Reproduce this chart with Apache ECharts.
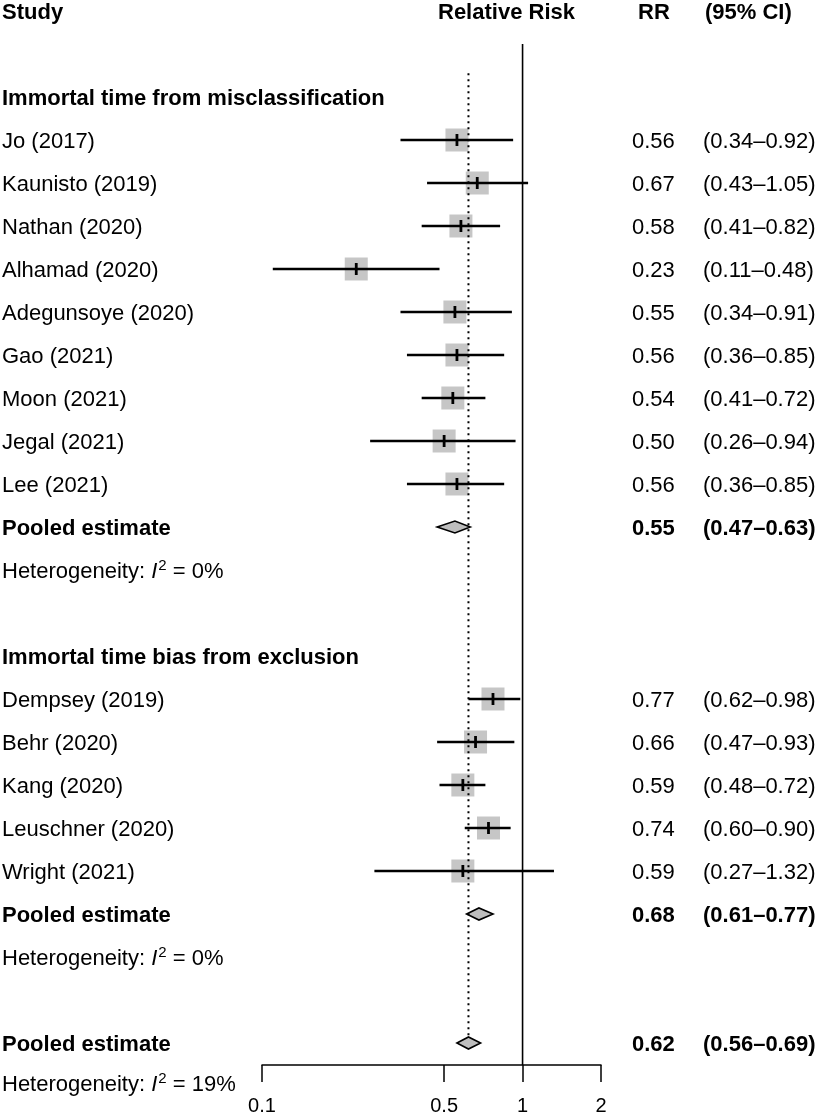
<!DOCTYPE html>
<html>
<head>
<meta charset="utf-8">
<script src="https://cdn.jsdelivr.net/npm/echarts@6/dist/echarts.min.js"></script>
<style>
  html, body { margin: 0; padding: 0; background: #fff; }
  #chart { width: 819px; height: 1116px; }
</style>
</head>
<body>
<div id="chart"></div>
<script>
  // data
  const groupTitles = ['Immortal time from misclassification', 'Immortal time bias from exclusion']

  const group1Studies = ['Jo (2017)', 'Kaunisto (2019)', 'Nathan (2020)', 'Alhamad (2020)', 'Adegunsoye (2020)',
    'Gao (2021)', 'Moon (2021)', 'Jegal (2021)', 'Lee (2021)']
  const group1RR = [0.56, 0.67, 0.58, 0.23, 0.55, 0.56, 0.54, 0.50, 0.56]
  const group1Lo = [0.34, 0.43, 0.41, 0.11, 0.34, 0.36, 0.41, 0.26, 0.36]
  const group1Hi = [0.92, 1.05, 0.82, 0.48, 0.91, 0.85, 0.72, 0.94, 0.85]

  const group2Studies = ['Dempsey (2019)', 'Behr (2020)', 'Kang (2020)', 'Leuschner (2020)', 'Wright (2021)']
  const group2RR = [0.77, 0.66, 0.59, 0.74, 0.59]
  const group2Lo = [0.62, 0.47, 0.48, 0.60, 0.27]
  const group2Hi = [0.98, 0.93, 0.72, 0.90, 1.32]

  // pooled: group 1, group 2, overall
  const pooledRR = [0.55, 0.68, 0.62]
  const pooledLo = [0.47, 0.61, 0.56]
  const pooledHi = [0.63, 0.77, 0.69]
  const heterogeneity = ['0%', '0%', '19%']

  const axisTicks = [0.1, 0.5, 1, 2]

  const FONT = "'Liberation Sans', Arial, Helvetica, sans-serif"
  const ROW_PX = 43
  const FIRST_ROW_Y = 11

  const fmt = (v) => v.toFixed(2)
  const ciText = (lo, hi) => '(' + fmt(lo) + '\u2013' + fmt(hi) + ')'

  // build rows
  const textItems = []
  const marks = []
  const addText = (x, row, text, bold, kind) => textItems.push({ x, row, text, bold, kind })

  addText(2, 0, 'Study', true)
  addText(438, 0, 'Relative Risk', true)
  addText(638, 0, 'RR', true)
  addText(705, 0, '(95% CI)', true)

  const groups = [
    [group1Studies, group1RR, group1Lo, group1Hi],
    [group2Studies, group2RR, group2Lo, group2Hi]
  ]

  let row = 2
  groups.forEach((g, gi) => {
    addText(2, row, groupTitles[gi], true)
    row++
    g[0].forEach((name, i) => {
      addText(2, row, name, false)
      addText(632, row, fmt(g[1][i]), false)
      addText(703, row, ciText(g[2][i], g[3][i]), false)
      marks.push([g[1][i], g[2][i], g[3][i], row, 0])
      row++
    })
    addText(2, row, 'Pooled estimate', true)
    addText(632, row, fmt(pooledRR[gi]), true)
    addText(703, row, ciText(pooledLo[gi], pooledHi[gi]), true)
    marks.push([pooledRR[gi], pooledLo[gi], pooledHi[gi], row, 1])
    row++
    addText(2, row, 'Heterogeneity: {it|I}{sup|2} = ' + heterogeneity[gi], false, 'het')
    row += 2
  })
  addText(2, row, 'Pooled estimate', true)
  addText(632, row, fmt(pooledRR[2]), true)
  addText(703, row, ciText(pooledLo[2], pooledHi[2]), true)
  marks.push([pooledRR[2], pooledLo[2], pooledHi[2], row, 1])
  // last line sits a little tighter above the axis labels
  addText(2, row + 0.93, 'Heterogeneity: {it|I}{sup|2} = ' + heterogeneity[2], false, 'het')

  const plotHeight = 1065
  const chart = echarts.init(document.getElementById('chart'))

  const option = {
    animation: false,
    grid: [
      { left: 262, width: 339, top: 0, height: plotHeight, outerBoundsMode: 'none', containLabel: false },
      { left: 0, width: 819, top: 0, height: 1116, outerBoundsMode: 'none', containLabel: false }
    ],
    xAxis: [
      {
        gridIndex: 0,
        type: 'log',
        logBase: 10,
        min: 0.1,
        max: 2,
        position: 'bottom',
        axisLine: { show: true, onZero: false, lineStyle: { color: '#000', width: 1.5 } },
        axisTick: { show: true, length: 17, customValues: axisTicks, lineStyle: { color: '#000', width: 1.5 } },
        axisLabel: {
          show: true,
          customValues: axisTicks,
          margin: 31,
          color: '#000',
          fontSize: 20,
          fontFamily: FONT,
          formatter: (v) => String(+(+v).toPrecision(3))
        },
        splitLine: { show: false }
      },
      { gridIndex: 1, type: 'value', min: 0, max: 819, show: false }
    ],
    yAxis: [
      { gridIndex: 0, type: 'value', inverse: true, min: -FIRST_ROW_Y / ROW_PX, max: (plotHeight - FIRST_ROW_Y) / ROW_PX, show: false },
      { gridIndex: 1, type: 'value', inverse: true, min: -FIRST_ROW_Y / ROW_PX, max: (1116 - FIRST_ROW_Y) / ROW_PX, show: false }
    ],
    series: [
      {
        // line of no effect
        type: 'line',
        xAxisIndex: 0,
        yAxisIndex: 0,
        symbol: 'none',
        z: 3,
        lineStyle: { color: '#000', width: 1.6 },
        data: [[1, 0.77], [1, (plotHeight - FIRST_ROW_Y) / ROW_PX]]
      },
      {
        // overall pooled estimate
        type: 'line',
        xAxisIndex: 0,
        yAxisIndex: 0,
        symbol: 'none',
        z: 3,
        lineStyle: { color: '#000', width: 2, type: [2, 4] },
        data: [[pooledRR[2], 1.45], [pooledRR[2], 23.9]]
      },
      {
        type: 'custom',
        xAxisIndex: 0,
        yAxisIndex: 0,
        z: 2,
        clip: false,
        data: marks,
        renderItem: (params, api) => {
          const r = api.value(3)
          const c = api.coord([api.value(0), r])
          const l = api.coord([api.value(1), r])
          const h = api.coord([api.value(2), r])
          if (api.value(4) === 1) {
            return {
              type: 'polygon',
              shape: { points: [[l[0], c[1]], [c[0], c[1] - 6], [h[0], c[1]], [c[0], c[1] + 6]] },
              style: { fill: '#bebebe', stroke: '#000', lineWidth: 1.6 }
            }
          }
          return {
            type: 'group',
            children: [
              { type: 'rect', shape: { x: c[0] - 11.5, y: c[1] - 11.5, width: 23, height: 23 }, style: { fill: '#c6c6c6' } },
              { type: 'line', shape: { x1: l[0], y1: c[1], x2: h[0], y2: c[1] }, style: { stroke: '#000', lineWidth: 2.4 } },
              { type: 'line', shape: { x1: c[0], y1: c[1] - 6, x2: c[0], y2: c[1] + 6 }, style: { stroke: '#000', lineWidth: 2.8 } }
            ]
          }
        }
      },
      {
        type: 'custom',
        xAxisIndex: 1,
        yAxisIndex: 1,
        z: 4,
        clip: false,
        data: textItems.map((t) => [t.x, t.row]),
        renderItem: (params, api) => {
          const t = textItems[params.dataIndex]
          const p = api.coord([api.value(0), api.value(1)])
          const style = {
            text: t.text,
            fill: '#000',
            fontSize: 22,
            fontFamily: FONT,
            fontWeight: t.bold ? 'bold' : 'normal',
            align: 'left',
            verticalAlign: 'middle'
          }
          if (t.kind === 'het') {
            style.rich = {
              it: { fontSize: 22, fontFamily: FONT, fontStyle: 'italic', fill: '#000' },
              sup: { fontSize: 15, fontFamily: FONT, fill: '#000', padding: [0, 0, 12, 1] }
            }
          }
          return { type: 'text', x: p[0], y: p[1] + 2, style }
        }
      }
    ]
  }

  chart.setOption(option)
</script>
</body>
</html>
